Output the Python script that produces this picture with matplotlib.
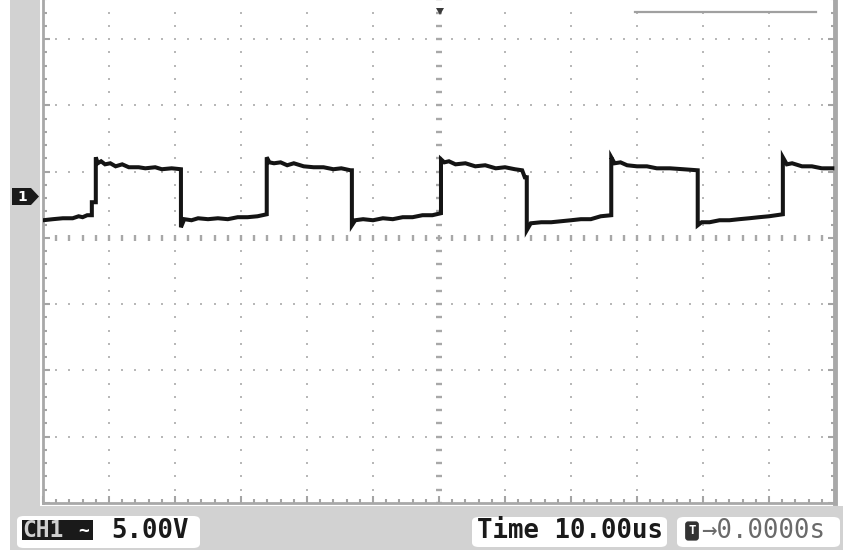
import numpy as np
import matplotlib.pyplot as plt
from matplotlib.patches import Rectangle, Polygon, FancyBboxPatch

# captured trace, CH1 (time in us, volts)
time_us = [-60.0, -58.5, -57.0, -55.5, -54.6, -54.0, -53.3, -52.6, -52.6, -52.0,
           -52.0, -51.7, -51.2, -50.6, -49.8, -49.0, -48.0, -47.0, -45.5, -44.5,
           -43.0, -42.0, -40.5, -39.1,
           -39.1, -38.6, -37.5, -36.5, -35.0, -33.5, -32.0, -30.5, -29.0, -27.5,
           -26.1,
           -26.1, -25.7, -25.0, -24.0, -23.0, -22.0, -20.5, -19.0, -17.5, -16.0,
           -14.8, -13.4, -13.2,
           -13.2, -12.7, -11.5, -10.0, -8.5, -7.0, -5.5, -4.0, -2.5, -1.0,
           0.3,
           0.3, 0.8, 1.5, 2.5, 4.0, 5.5, 7.0, 8.6, 10.0, 11.5,
           12.6, 13.0, 13.3,
           13.3, 13.9, 15.5, 17.0, 18.6, 20.0, 21.5, 23.0, 24.5, 26.1,
           26.1, 26.6, 27.5, 28.5, 30.0, 31.5, 33.0, 35.0, 37.0, 39.2,
           39.2, 39.8, 41.0, 42.5, 44.0, 45.5, 47.0, 48.5, 50.0, 52.1,
           52.1, 52.7, 53.5, 55.0, 56.5, 58.0, 59.6]
volts = [-1.66, -1.58, -1.51, -1.51, -1.36, -1.43, -1.28, -1.28, -0.30, -0.30,
         3.09, 2.64, 2.79, 2.56, 2.64, 2.41, 2.56, 2.34, 2.34, 2.26,
         2.34, 2.19, 2.26, 2.19,
         -2.19, -1.58, -1.66, -1.51, -1.58, -1.51, -1.58, -1.43, -1.43, -1.36,
         -1.21,
         3.09, 2.71, 2.64, 2.71, 2.49, 2.64, 2.41, 2.34, 2.34, 2.19,
         2.26, 2.11, 2.11,
         -2.04, -1.66, -1.58, -1.66, -1.51, -1.58, -1.43, -1.43, -1.28, -1.28,
         -1.13,
         2.94, 2.71, 2.79, 2.56, 2.64, 2.41, 2.49, 2.26, 2.34, 2.19,
         2.11, 1.58, 1.58,
         -2.41, -1.89, -1.81, -1.81, -1.73, -1.66, -1.58, -1.58, -1.36, -1.28,
         3.09, 2.64, 2.71, 2.49, 2.41, 2.41, 2.26, 2.26, 2.19, 2.11,
         -2.04, -1.81, -1.81, -1.66, -1.66, -1.58, -1.51, -1.43, -1.36, -1.21,
         3.09, 2.56, 2.64, 2.41, 2.41, 2.26, 2.26]

# scope settings
time_div = 10.0     # us / div
volt_div = 5.0      # V / div
n_hdiv = 12
n_vdiv = 8
ch_offset = -3.0    # screen centre in volts (ground marker sits above it)

ch_label = "CH1"
coupling = "~"
volt_text = "5.00V"
time_text = "Time 10.00us"
trig_text = "\u21920.0000s"

W, H = 843, 550
fig = plt.figure(figsize=(W / 100, H / 100), dpi=100)
fig.patch.set_facecolor("white")

def fx(x):
    return x / W

def fy(y):
    return 1 - y / H

# screen area (top runs past the figure)
left_px, right_px, top_px, bot_px = 43, 835, -27, 503
ax = fig.add_axes([fx(left_px), fy(bot_px), (right_px - left_px) / W, (bot_px - top_px) / H])
t_lo, t_hi = -n_hdiv / 2 * time_div, n_hdiv / 2 * time_div
v_lo, v_hi = ch_offset - n_vdiv / 2 * volt_div, ch_offset + n_vdiv / 2 * volt_div
ax.set_xlim(t_lo, t_hi)
ax.set_ylim(v_lo, v_hi)

grid_col = "#b8b8b8"
# dotted graticule
t_minor = np.arange(t_lo, t_hi + 0.01, time_div / 5)
v_minor = np.arange(v_lo, v_hi + 0.01, volt_div / 5)
for k in range(1, n_vdiv):
    v = v_lo + k * volt_div
    if abs(v - ch_offset) < 1e-6:
        continue
    ax.plot(t_minor, np.full_like(t_minor, v), ls="none", marker="s", ms=2.0,
            mew=0, color=grid_col, zorder=1)
for k in range(1, n_hdiv):
    t = t_lo + k * time_div
    if abs(t) < 1e-6:
        continue
    ax.plot(np.full_like(v_minor, t), v_minor, ls="none", marker="s", ms=2.0,
            mew=0, color=grid_col, zorder=1)

# centre axes with tick dashes
ax.plot(t_minor, np.full_like(t_minor, ch_offset), ls="none", marker="|", ms=4.5,
        mew=1.7, color="#a8a8a8", zorder=1)
ax.plot(np.zeros_like(v_minor), v_minor, ls="none", marker="_", ms=5.0,
        mew=1.7, color="#a8a8a8", zorder=1)

# edge ticks
ax.set_xticks(np.arange(t_lo, t_hi + 0.01, time_div))
ax.set_xticks(t_minor, minor=True)
ax.set_yticks(np.arange(v_lo, v_hi + 0.01, volt_div))
ax.set_yticks(v_minor, minor=True)
ax.tick_params(which="both", direction="in", left=True, right=True, bottom=True, top=False,
               labelleft=False, labelbottom=False, color="#a4a4a4", width=1.5)
ax.tick_params(which="major", length=5)
ax.tick_params(which="minor", length=3)
for side, lw in [("left", 2.0), ("bottom", 2.0), ("right", 3.5)]:
    ax.spines[side].set_color("#a8a8a8")
    ax.spines[side].set_linewidth(lw)
ax.spines["top"].set_visible(False)

# waveform
ax.plot(time_us, volts, color="#141414", lw=2.9, solid_joinstyle="miter", zorder=5)

# left strip and status bar
fig.patches.append(Rectangle((fx(10), fy(506)), fx(30), 506 / H, transform=fig.transFigure,
                             facecolor="#d2d2d2", edgecolor="none", zorder=0))
fig.patches.append(Rectangle((fx(10), 0), fx(W - 10), (H - 506) / H, transform=fig.transFigure,
                             facecolor="#d2d2d2", edgecolor="none", zorder=0))

def box(x0, x1, y0, y1):
    p = FancyBboxPatch((fx(x0), fy(y1)), fx(x1 - x0), (y1 - y0) / H,
                       boxstyle="round,pad=0,rounding_size=0.008", transform=fig.transFigure,
                       facecolor="white", edgecolor="none", zorder=1)
    fig.patches.append(p)

box(17, 200, 516, 548)
box(472, 667, 517, 547)
box(677, 840, 517, 547)

# top info box edge
fig.patches.append(Rectangle((fx(633), fy(12)), fx(818 - 633), 12 / H, transform=fig.transFigure,
                             facecolor="white", edgecolor="none", zorder=3))
fig.add_artist(plt.Line2D([fx(635), fx(816)], [fy(11.5), fy(11.5)], transform=fig.transFigure,
                          color="#a0a0a0", lw=1.6, zorder=4))

# trigger position marker
fig.patches.append(Polygon([(fx(436), fy(8)), (fx(444), fy(8)), (fx(440), fy(15))],
                           closed=True, transform=fig.transFigure, facecolor="#3a3a3a",
                           edgecolor="none", zorder=4))

# channel ground marker
fig.patches.append(Polygon([(fx(12), fy(188)), (fx(31), fy(188)), (fx(39), fy(196.5)),
                            (fx(31), fy(205)), (fx(12), fy(205))], closed=True,
                           transform=fig.transFigure, facecolor="#1a1a1a", edgecolor="none", zorder=4))
fig.text(fx(22), fy(197), "1", color="white", fontsize=10, fontweight="bold",
         ha="center", va="center", zorder=5)

mono = "DejaVu Sans Mono"
# channel block
fig.patches.append(Rectangle((fx(22), fy(540)), fx(93 - 22), 20 / H, transform=fig.transFigure,
                             facecolor="#1a1a1a", edgecolor="none", zorder=2))
fig.text(fx(22), fy(530.5), ch_label, family=mono, fontsize=16.5, fontweight="bold",
         color="#cfcfcf", ha="left", va="center", zorder=3)
fig.text(fx(84), fy(530.5), coupling, family=mono, fontsize=13, fontweight="bold",
         color="white", ha="center", va="center", zorder=3)
fig.text(fx(111), fy(531), volt_text, family=mono, fontsize=18.5, fontweight="bold",
         color="#1a1a1a", ha="left", va="center", zorder=3)
fig.text(fx(477), fy(531), time_text, family=mono, fontsize=18.5, fontweight="bold",
         color="#1a1a1a", ha="left", va="center", zorder=3)
fig.text(fx(692), fy(531), "T", family=mono, fontsize=9, fontweight="bold", color="white",
         ha="center", va="center", zorder=3,
         bbox=dict(boxstyle="round,pad=0.25", facecolor="#333333", edgecolor="none"))
fig.text(fx(701), fy(531), trig_text, family=mono, fontsize=18.5,
         color="#6a6a6a", ha="left", va="center", zorder=3)

fig.savefig("out.png", dpi=100)
